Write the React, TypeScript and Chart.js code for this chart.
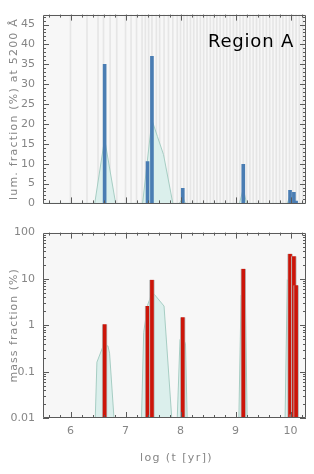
import React, { useEffect, useRef } from "react";
import { Chart, registerables } from "chart.js";

Chart.register(...registerables);

// ---- axes ----
const X_MIN = 5.5;
const X_MAX = 10.28;
const X_TICKS = [6, 7, 8, 9, 10];
const LUM_MAX = 47.5;
const LUM_TICKS = [0, 5, 10, 15, 20, 25, 30, 35, 40, 45];
const MASS_TICKS = [0.01, 0.1, 1, 10, 100];
const MASS_TICK_LABELS = ["0.01", "0.1", "1", "10", "100"];

// ---- base ages (background lines in the luminosity panel) ----
const BASE_AGES = [
  6.0, 6.3, 6.5, 6.6, 6.72, 6.84, 7.0, 7.1, 7.2, 7.3, 7.36, 7.42, 7.48, 7.56,
  7.62, 7.7, 7.78, 7.86, 7.94, 8.0, 8.06, 8.12, 8.18, 8.24, 8.3, 8.36, 8.42,
  8.48, 8.54, 8.6, 8.66, 8.72, 8.78, 8.84, 8.9, 8.96, 9.02, 9.08, 9.14, 9.2,
  9.26, 9.32, 9.38, 9.44, 9.5, 9.56, 9.62, 9.68, 9.74, 9.8, 9.86, 9.92, 9.98,
  10.04, 10.1, 10.16, 10.22,
];

// ---- population components ----
const COMP_AGES = [6.62, 7.4, 7.48, 8.04, 9.14, 9.99, 10.03, 10.06, 10.1];
const LUM_FRAC = [35, 10.5, 37, 3.8, 9.8, 3.3, 0, 2.8, 0.6];
const MASS_FRAC = [1.05, 2.6, 9.6, 1.5, 16.5, 35, 0.012, 31, 7.3];

// ---- smoothed envelopes ----
const LUM_ENV_X = [
  5.5, 6.44, 6.62, 6.82, 7.31, 7.48, 7.58, 7.69, 7.86, 7.98, 8.04, 8.09, 9.07,
  9.14, 9.2, 9.94, 9.99, 10.03, 10.28,
];
const LUM_ENV_Y = [
  0, 0, 16.2, 0, 0, 21, 16.8, 12.3, 0, 0, 1.5, 0, 0, 3.7, 0, 0, 2, 0, 0,
];
const MASS_ENV_X = [
  5.5, 6.45, 6.48, 6.59, 6.68, 6.71, 6.79, 7.29, 7.33, 7.4, 7.48, 7.52, 7.7,
  7.84, 7.94, 7.99, 8.04, 8.09, 8.12, 9.06, 9.1, 9.18, 9.21, 9.9, 9.94, 10.1,
  10.13, 10.28,
];
const MASS_ENV_Y = [
  0.01, 0.01, 0.16, 0.35, 0.36, 0.25, 0.01, 0.01, 0.7, 2.7, 5.0, 4.7, 2.6,
  0.01, 0.01, 0.5, 0.55, 0.4, 0.01, 0.01, 4.4, 3.2, 0.01, 0.01, 9.6, 5, 0.01,
  0.01,
];

const TEXT_GRAY = "#868686";
const FRAME = "#5a5a5a";
const TICK_FONT = { family: "DejaVu Sans", size: 11 };
const ENV_FILL = "#dbefec";
const ENV_LINE = "#a6cdc3";

function drawText(
  ctx: CanvasRenderingContext2D,
  text: string,
  x: number,
  y: number,
  opts: { rot?: number; font: string; color: string; align: CanvasTextAlign; baseline: CanvasTextBaseline; spacing: string }
) {
  ctx.save();
  ctx.translate(x, y);
  if (opts.rot) ctx.rotate(opts.rot);
  ctx.font = opts.font;
  (ctx as any).letterSpacing = opts.spacing;
  ctx.fillStyle = opts.color;
  ctx.textAlign = opts.align;
  ctx.textBaseline = opts.baseline;
  ctx.fillText(text, 0, 0);
  ctx.restore();
}

function makeFramePlugin(kind: "lum" | "mass") {
  return {
    id: "frame_" + kind,
    beforeDraw(chart: any) {
      const { ctx, chartArea: a } = chart;
      ctx.save();
      ctx.fillStyle = "#f7f7f7";
      ctx.fillRect(a.left, a.top, a.right - a.left, a.bottom - a.top);
      ctx.restore();
    },
    afterDraw(chart: any) {
      const { ctx, chartArea: a, scales } = chart;
      const xs = scales.x;
      const ys = scales.y;
      ctx.save();
      ctx.strokeStyle = FRAME;
      ctx.lineWidth = 1;
      ctx.beginPath();
      ctx.rect(Math.round(a.left) + 0.5, Math.round(a.top) + 0.5, Math.round(a.right - a.left) - 1, Math.round(a.bottom - a.top) - 1);
      ctx.stroke();
      ctx.beginPath();
      // x ticks (inward, top and bottom)
      for (let i = 28; i <= 51; i++) {
        const v = i * 0.2;
        if (v < X_MIN || v > X_MAX) continue;
        const len = i % 5 === 0 ? 6 : 3;
        const px = Math.round(xs.getPixelForValue(v)) + 0.5;
        ctx.moveTo(px, a.bottom);
        ctx.lineTo(px, a.bottom - len);
        ctx.moveTo(px, a.top);
        ctx.lineTo(px, a.top + len);
      }
      // y ticks (inward, left and right)
      const yv: { v: number; major: boolean }[] = [];
      if (kind === "lum") {
        for (let i = 1; i <= 47; i++) yv.push({ v: i, major: i % 5 === 0 });
      } else {
        for (let d = -2; d <= 1; d++) {
          for (let m = 1; m <= 9; m++) yv.push({ v: m * Math.pow(10, d), major: m === 1 });
        }
      }
      for (const t of yv) {
        const py = Math.round(ys.getPixelForValue(t.v)) + 0.5;
        const len = t.major ? 6 : 3;
        ctx.moveTo(a.left, py);
        ctx.lineTo(a.left + len, py);
        ctx.moveTo(a.right, py);
        ctx.lineTo(a.right - len, py);
      }
      ctx.stroke();
      ctx.restore();

      const midY = (a.top + a.bottom) / 2;
      const titleFont = "11px 'DejaVu Sans'";
      if (kind === "lum") {
        drawText(ctx, "lum. fraction (%) at 5200 Å", 14, midY, {
          rot: -Math.PI / 2, font: titleFont, color: TEXT_GRAY, align: "center", baseline: "middle", spacing: "1.2px",
        });
        drawText(ctx, "Region A", 294, 47, {
          font: "18px 'DejaVu Sans'", color: "#000", align: "right", baseline: "alphabetic", spacing: "0.8px",
        });
      } else {
        drawText(ctx, "mass fraction (%)", 14, midY, {
          rot: -Math.PI / 2, font: titleFont, color: TEXT_GRAY, align: "center", baseline: "middle", spacing: "1px",
        });
        drawText(ctx, "log (t [yr])", (a.left + a.right) / 2 + 2, 243, {
          font: titleFont, color: TEXT_GRAY, align: "center", baseline: "alphabetic", spacing: "1.4px",
        });
      }
    },
  };
}

function xScale(showLabels: boolean, height: number) {
  return {
    type: "linear",
    min: X_MIN,
    max: X_MAX,
    offset: false,
    bounds: "ticks",
    afterBuildTicks: (s: any) => {
      s.ticks = X_TICKS.map((v) => ({ value: v }));
    },
    afterFit: (s: any) => {
      s.height = height;
    },
    grid: { display: false, drawTicks: false, offset: false },
    border: { display: false },
    ticks: {
      display: showLabels,
      color: TEXT_GRAY,
      font: TICK_FONT,
      padding: 7,
      maxRotation: 0,
      autoSkip: false,
      callback: (v: any) => String(v),
    },
  };
}

export default function App() {
  const topRef = useRef<HTMLCanvasElement>(null);
  const botRef = useRef<HTMLCanvasElement>(null);

  useEffect(() => {
    const lumBars = COMP_AGES.map((x, i) => ({ x, y: LUM_FRAC[i] }));
    const massBars = COMP_AGES.map((x, i) => ({ x, y: MASS_FRAC[i] }));
    const lumEnv = LUM_ENV_X.map((x, i) => ({ x, y: LUM_ENV_Y[i] }));
    const massEnv = MASS_ENV_X.map((x, i) => ({ x, y: MASS_ENV_Y[i] }));
    const baseLines = BASE_AGES.map((x) => ({ x, y: LUM_MAX }));

    const top = new Chart(topRef.current!, {
      type: "bar",
      data: {
        datasets: [
          {
            type: "bar",
            data: baseLines,
            backgroundColor: "#e6e6e6",
            barThickness: 1,
            grouped: false,
            order: 3,
          } as any,
          {
            type: "line",
            data: lumEnv,
            borderColor: ENV_LINE,
            backgroundColor: ENV_FILL,
            borderWidth: 1,
            pointRadius: 0,
            fill: "origin",
            tension: 0,
            order: 2,
          } as any,
          {
            type: "bar",
            data: lumBars,
            backgroundColor: "#4a7db3",
            barThickness: 3,
            grouped: false,
            order: 1,
          } as any,
        ],
      },
      options: {
        animation: false,
        responsive: false,
        devicePixelRatio: 1,
        layout: { padding: { top: 14, right: 8, left: 0, bottom: 0 } },
        plugins: { legend: { display: false }, tooltip: { enabled: false }, filler: { propagate: false } },
        scales: {
          x: xScale(false, 10) as any,
          y: {
            type: "linear",
            min: 0,
            max: LUM_MAX,
            afterBuildTicks: (s: any) => {
              s.ticks = LUM_TICKS.map((v) => ({ value: v }));
            },
            afterFit: (s: any) => {
              s.width = 43;
            },
            grid: { display: false, drawTicks: false },
            border: { display: false },
            ticks: { color: TEXT_GRAY, font: TICK_FONT, padding: 8 },
          },
        },
      },
      plugins: [makeFramePlugin("lum")],
    });

    const bot = new Chart(botRef.current!, {
      type: "bar",
      data: {
        datasets: [
          {
            type: "line",
            data: massEnv,
            borderColor: ENV_LINE,
            backgroundColor: ENV_FILL,
            borderWidth: 1,
            pointRadius: 0,
            fill: "start",
            tension: 0,
            order: 2,
          } as any,
          {
            type: "bar",
            data: massBars,
            backgroundColor: "#cc1509",
            borderColor: "#b9b9b9",
            borderWidth: { left: 1, right: 1, top: 0, bottom: 0 },
            borderSkipped: false,
            barThickness: 5,
            grouped: false,
            base: 0.01,
            order: 1,
          } as any,
        ],
      },
      options: {
        animation: false,
        responsive: false,
        devicePixelRatio: 1,
        layout: { padding: { top: 6, right: 8, left: 0, bottom: 0 } },
        plugins: { legend: { display: false }, tooltip: { enabled: false } },
        scales: {
          x: xScale(true, 56) as any,
          y: {
            type: "logarithmic",
            min: 0.01,
            max: 100,
            afterBuildTicks: (s: any) => {
              s.ticks = MASS_TICKS.map((v) => ({ value: v }));
            },
            afterFit: (s: any) => {
              s.width = 43;
            },
            grid: { display: false, drawTicks: false },
            border: { display: false },
            ticks: {
              color: TEXT_GRAY,
              font: TICK_FONT,
              padding: 8,
              autoSkip: false,
              callback: (v: any, i: number) => MASS_TICK_LABELS[i],
            },
          },
        },
      },
      plugins: [makeFramePlugin("mass")],
    });

    return () => {
      top.destroy();
      bot.destroy();
    };
  }, []);

  return (
    <div style={{ position: "absolute", left: 0, top: 0, width: 314, height: 474, background: "#fff" }}>
      <canvas ref={topRef} width={314} height={218} style={{ position: "absolute", left: 0, top: 0, width: 314, height: 218 }} />
      <canvas ref={botRef} width={314} height={256} style={{ position: "absolute", left: 0, top: 218, width: 314, height: 256 }} />
    </div>
  );
}
